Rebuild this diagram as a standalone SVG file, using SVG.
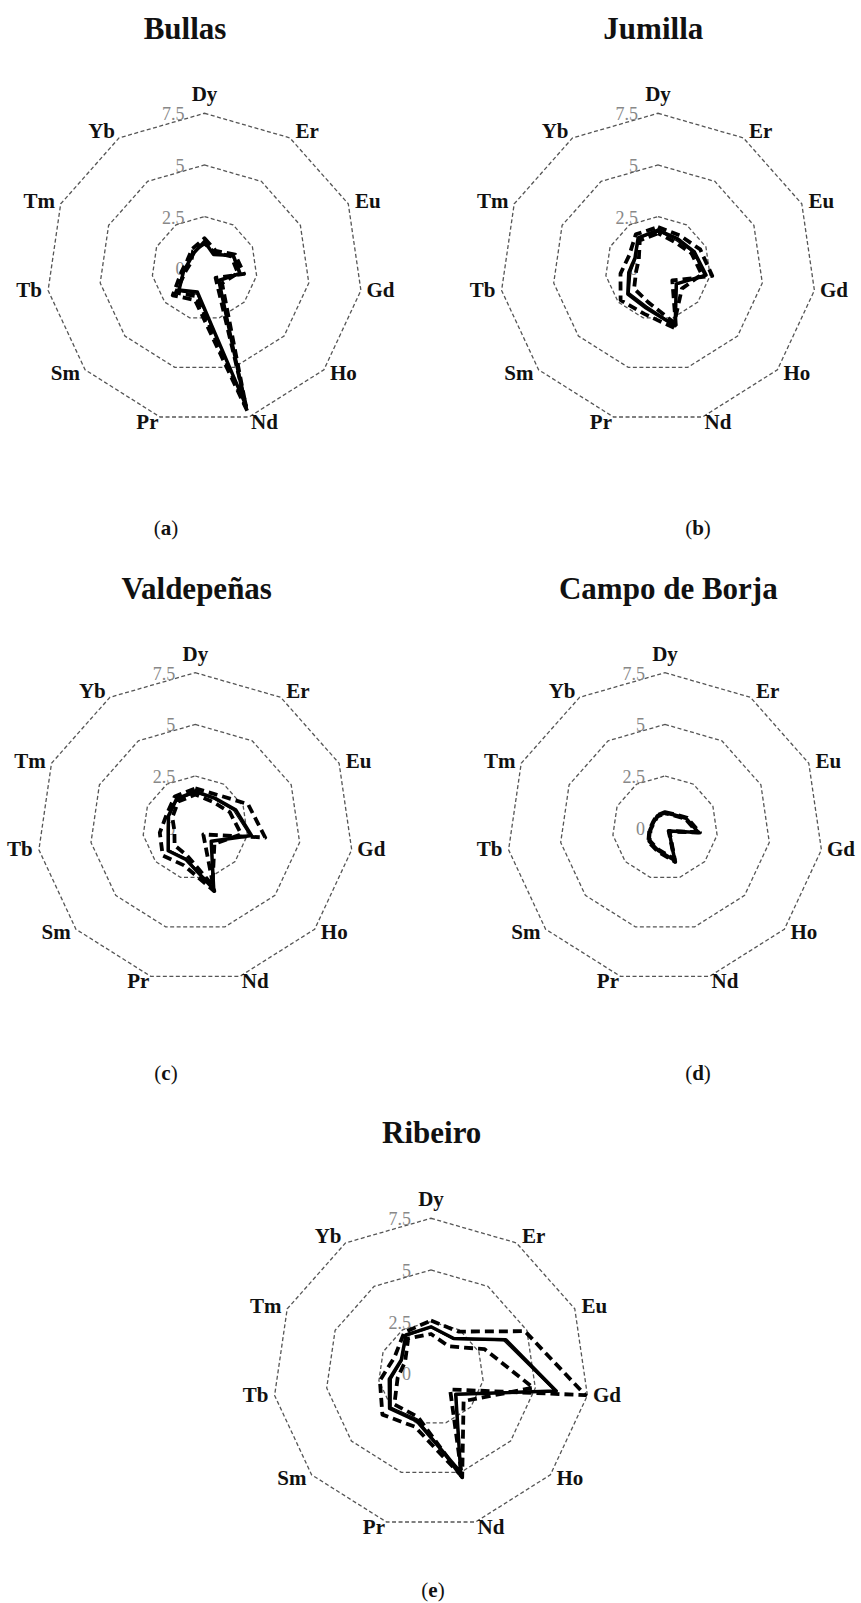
<svg xmlns="http://www.w3.org/2000/svg" xmlns:xlink="http://www.w3.org/1999/xlink" width="861" height="1603" viewBox="0 0 861 1603">
<style>
.grid{fill:none;stroke:#555;stroke-width:1.3;stroke-dasharray:4 2.5}
.title{font-family:"Liberation Serif","Times New Roman",serif;font-weight:bold;font-size:31px;fill:#111;text-anchor:middle}
.ax{font-family:"Liberation Serif","Times New Roman",serif;font-weight:bold;font-size:21px;fill:#111}
.st{text-anchor:start}.en{text-anchor:end}.mi{text-anchor:middle}
.tick{font-family:"Liberation Serif","Times New Roman",serif;font-size:18px;fill:#888;text-anchor:end}
.cap{font-family:"Liberation Serif","Times New Roman",serif;font-size:21px;fill:#111;text-anchor:middle}
.s{fill:none;stroke:#000;stroke-width:3.5;stroke-linejoin:round}
.t{fill:none;stroke:#000;stroke-width:1.2;stroke-linejoin:round}
.da{fill:none;stroke:#000;stroke-width:3.8;stroke-dasharray:9 5;stroke-linejoin:round}
.db{fill:none;stroke:#000;stroke-width:3.8;stroke-dasharray:9 5;stroke-dashoffset:5;stroke-linejoin:round}
</style>
<defs>
<polygon id="r75" class="grid" points="0,-155 85.4,-130.4 143.8,-64.4 156.4,22.1 119.4,101.5 44.5,148.7 -44.5,148.7 -119.4,101.5 -156.4,22.1 -143.8,-64.4 -85.4,-130.4"/>
<polygon id="r50" class="grid" points="0,-103.3 56.9,-86.9 95.9,-42.9 104.3,14.7 79.6,67.7 29.7,99.1 -29.7,99.1 -79.6,67.7 -104.3,14.7 -95.9,-42.9 -56.9,-86.9"/>
<polygon id="r25" class="grid" points="0,-51.7 28.5,-43.5 47.9,-21.5 52.1,7.4 39.8,33.8 14.8,49.6 -14.8,49.6 -39.8,33.8 -52.1,7.4 -47.9,-21.5 -28.5,-43.5"/>
</defs>
<rect width="861" height="1603" fill="#fff"/>

<g id="chart-a" transform="translate(204.5,268.3)">
<text class="title" x="-19.5" y="-229">Bullas</text>
<use href="#r75"/><use href="#r50"/><use href="#r25"/>
<text class="tick" x="-20" y="-148">7.5</text><text class="tick" x="-20" y="-96.6">5</text><text class="tick" x="-20" y="-44.7">2.5</text><text class="tick" x="-20" y="7">0</text>
<text class="ax mi" x="0" y="-167">Dy</text><text class="ax st" x="91" y="-130">Er</text><text class="ax st" x="150.5" y="-60">Eu</text><text class="ax st" x="162" y="28.5">Gd</text><text class="ax st" x="125.5" y="111.7">Ho</text><text class="ax st" x="46.5" y="160.7">Nd</text><text class="ax en" x="-46" y="160.7">Pr</text><text class="ax en" x="-124.5" y="111.7">Sm</text><text class="ax en" x="-162.5" y="28.5">Tb</text><text class="ax en" x="-149.5" y="-60">Tm</text><text class="ax en" x="-89.5" y="-130">Yb</text>
<g id="data-a">
<polygon class="da" points="0,-30.0 11.4,-17.4 30.7,-13.7 39.6,5.6 11.1,9.5 42.8,142.8 -9.5,31.7 -31.8,27.1 -22.9,3.2 -17.3,-7.7 -12.5,-19.1"/>
<polygon class="db" points="0,-24.8 10.3,-15.7 26.8,-12.0 33.4,4.7 17.5,14.9 41.6,138.8 -8.3,27.8 -28.7,24.4 -18.8,2.6 -13.4,-6.0 -11.4,-17.4"/>
<polygon class="s" points="0,-26.9 9.1,-13.9 28.8,-12.9 35.5,5.0 14.3,12.2 40.4,134.8 -7.1,23.8 -25.5,21.7 -20.9,2.9 -15.3,-6.9 -10.3,-15.7"/>
<polygon class="t" points="0,-25.8 9.7,-14.8 27.8,-12.5 34.4,4.9 15.1,12.9 41.0,136.8 -7.7,25.8 -27.1,23.0 -20.9,2.9 -15.3,-6.9 -10.8,-16.5"/>
</g>
</g>

<g id="chart-b" transform="translate(658,268.3)">
<text class="title" x="-4.7" y="-229">Jumilla</text>
<use href="#r75"/><use href="#r50"/><use href="#r25"/>
<text class="tick" x="-20" y="-148">7.5</text><text class="tick" x="-20" y="-96.6">5</text><text class="tick" x="-20" y="-44.7">2.5</text><text class="tick" x="-20" y="7">0</text>
<text class="ax mi" x="0" y="-167">Dy</text><text class="ax st" x="91" y="-130">Er</text><text class="ax st" x="150.5" y="-60">Eu</text><text class="ax st" x="162" y="28.5">Gd</text><text class="ax st" x="125.5" y="111.7">Ho</text><text class="ax st" x="46.5" y="160.7">Nd</text><text class="ax en" x="-46" y="160.7">Pr</text><text class="ax en" x="-124.5" y="111.7">Sm</text><text class="ax en" x="-162.5" y="28.5">Tb</text><text class="ax en" x="-149.5" y="-60">Tm</text><text class="ax en" x="-89.5" y="-130">Yb</text>
<g id="data-b">
<polygon class="da" points="0,-41.3 21.6,-33.0 42.2,-18.9 54.2,7.6 14.3,12.2 18.1,60.5 -13.7,45.6 -37.4,31.8 -37.5,5.3 -28.8,-12.9 -22.2,-33.9"/>
<polygon class="db" points="0,-35.1 17.1,-26.1 33.5,-15.0 43.8,6.2 23.9,20.3 16.3,54.5 -10.1,33.7 -23.9,20.3 -21.9,3.1 -19.2,-8.6 -18.2,-27.8"/>
<polygon class="s" points="0,-38.2 19.4,-29.6 36.4,-16.3 48.0,6.8 18.3,15.6 17.2,57.5 -11.9,39.7 -30.2,25.7 -29.2,4.1 -23.0,-10.3 -19.9,-30.4"/>
<polygon class="t" points="0,-37.2 18.2,-27.8 35.5,-15.9 45.9,6.5 19.1,16.2 16.9,56.5 -11.3,37.7 -28.7,24.4 -27.1,3.8 -22.0,-9.9 -19.4,-29.6"/>
</g>
</g>

<g id="chart-c" transform="translate(195.3,827.7)">
<text class="title" x="1.4" y="-228.7">Valdepeñas</text>
<use href="#r75"/><use href="#r50"/><use href="#r25"/>
<text class="tick" x="-20" y="-148">7.5</text><text class="tick" x="-20" y="-96.6">5</text><text class="tick" x="-20" y="-44.7">2.5</text><text class="tick" x="-20" y="7">0</text>
<text class="ax mi" x="0" y="-167">Dy</text><text class="ax st" x="91" y="-130">Er</text><text class="ax st" x="150.5" y="-60">Eu</text><text class="ax st" x="162" y="28.5">Gd</text><text class="ax st" x="125.5" y="111.7">Ho</text><text class="ax st" x="46.5" y="160.7">Nd</text><text class="ax en" x="-46" y="160.7">Pr</text><text class="ax en" x="-124.5" y="111.7">Sm</text><text class="ax en" x="-162.5" y="28.5">Tb</text><text class="ax en" x="-149.5" y="-60">Tm</text><text class="ax en" x="-89.5" y="-130">Yb</text>
<g id="data-c">
<polygon class="da" points="0,-39.3 21.6,-33.0 52.7,-23.6 69.9,9.8 8.0,6.8 19.0,63.5 -11.3,37.7 -32.6,27.8 -35.5,5.0 -28.8,-12.9 -20.5,-31.3"/>
<polygon class="db" points="0,-33.1 17.1,-26.1 34.5,-15.5 45.9,6.5 19.1,16.2 17.2,57.5 -8.3,27.8 -20.7,17.6 -20.9,2.9 -23.0,-10.3 -17.1,-26.1"/>
<polygon class="s" points="0,-36.2 19.4,-29.6 40.3,-18.0 56.3,7.9 15.9,13.5 18.4,61.5 -9.5,31.7 -27.1,23.0 -27.1,3.8 -26.8,-12.0 -18.8,-28.7"/>
<polygon class="t" points="0,-35.1 18.8,-28.7 38.3,-17.2 54.2,7.6 16.7,14.2 17.8,59.5 -9.2,30.7 -26.3,22.3 -26.1,3.7 -25.9,-11.6 -18.2,-27.8"/>
</g>
</g>

<g id="chart-d" transform="translate(665,827.7)">
<text class="title" x="3.3" y="-228.7">Campo de Borja</text>
<use href="#r75"/><use href="#r50"/><use href="#r25"/>
<text class="tick" x="-20" y="-148">7.5</text><text class="tick" x="-20" y="-96.6">5</text><text class="tick" x="-20" y="-44.7">2.5</text><text class="tick" x="-20" y="7">0</text>
<text class="ax mi" x="0" y="-167">Dy</text><text class="ax st" x="91" y="-130">Er</text><text class="ax st" x="150.5" y="-60">Eu</text><text class="ax st" x="162" y="28.5">Gd</text><text class="ax st" x="125.5" y="111.7">Ho</text><text class="ax st" x="46.5" y="160.7">Nd</text><text class="ax en" x="-46" y="160.7">Pr</text><text class="ax en" x="-124.5" y="111.7">Sm</text><text class="ax en" x="-162.5" y="28.5">Tb</text><text class="ax en" x="-149.5" y="-60">Tm</text><text class="ax en" x="-89.5" y="-130">Yb</text>
<g id="data-d">
<polygon class="da" points="0,-15.6 8.9,-13.6 22.2,-9.9 35.0,4.9 4.5,3.8 10.3,34.3 -7.1,23.9 -16.7,14.2 -15.7,2.2 -12.1,-5.5 -8.1,-12.4"/>
<polygon class="db" points="0,-14.3 8.2,-12.5 20.3,-9.0 32.1,4.5 3.6,3.1 9.4,31.4 -6.5,21.9 -15.3,13.0 -14.4,2.0 -11.0,-5.0 -7.4,-11.3"/>
<polygon class="s" points="0,-14.9 8.5,-13.0 21.1,-9.4 33.4,4.7 4.0,3.4 9.8,32.7 -6.8,22.8 -15.9,13.5 -15.0,2.1 -11.5,-5.2 -7.7,-11.8"/>
</g>
</g>

<g id="chart-e" transform="translate(431,1373.3)">
<text class="title" x="0.7" y="-230">Ribeiro</text>
<use href="#r75"/><use href="#r50"/><use href="#r25"/>
<text class="tick" x="-20" y="-148">7.5</text><text class="tick" x="-20" y="-96.6">5</text><text class="tick" x="-20" y="-44.7">2.5</text><text class="tick" x="-20" y="7">0</text>
<text class="ax mi" x="0" y="-167">Dy</text><text class="ax st" x="91" y="-130">Er</text><text class="ax st" x="150.5" y="-60">Eu</text><text class="ax st" x="162" y="28.5">Gd</text><text class="ax st" x="125.5" y="111.7">Ho</text><text class="ax st" x="46.5" y="160.7">Nd</text><text class="ax en" x="-46" y="160.7">Pr</text><text class="ax en" x="-124.5" y="111.7">Sm</text><text class="ax en" x="-162.5" y="28.5">Tb</text><text class="ax en" x="-149.5" y="-60">Tm</text><text class="ax en" x="-89.5" y="-130">Yb</text>
<g id="data-e">
<polygon class="da" points="0,-52.7 27.3,-41.7 93.9,-42.1 154.4,21.8 19.1,16.2 30.9,103.1 -16.0,53.5 -48.6,41.3 -51.1,7.2 -36.4,-16.3 -26.8,-40.9"/>
<polygon class="db" points="0,-39.3 17.7,-27.0 53.7,-24.1 102.2,14.4 32.6,27.8 31.2,104.1 -13.1,43.6 -36.6,31.1 -33.4,4.7 -25.9,-11.6 -22.8,-34.8"/>
<polygon class="s" points="0,-46.5 22.8,-34.8 74.8,-33.5 125.2,17.6 24.7,21.0 29.7,99.2 -14.3,47.6 -41.4,35.2 -41.7,5.9 -29.7,-13.3 -25.1,-38.3"/>
<polygon class="t" points="0,-45.5 22.2,-33.9 72.8,-32.6 123.1,17.3 25.5,21.7 30.0,100.2 -13.7,45.6 -39.8,33.9 -39.6,5.6 -28.8,-12.9 -24.5,-37.4"/>
</g>
</g>

<g id="captions">
<text class="cap" x="166" y="535">(<tspan font-weight="bold">a</tspan>)</text>
<text class="cap" x="698" y="535">(<tspan font-weight="bold">b</tspan>)</text>
<text class="cap" x="166" y="1080">(<tspan font-weight="bold">c</tspan>)</text>
<text class="cap" x="698" y="1080">(<tspan font-weight="bold">d</tspan>)</text>
<text class="cap" x="433" y="1597">(<tspan font-weight="bold">e</tspan>)</text>
</g>
</svg>
